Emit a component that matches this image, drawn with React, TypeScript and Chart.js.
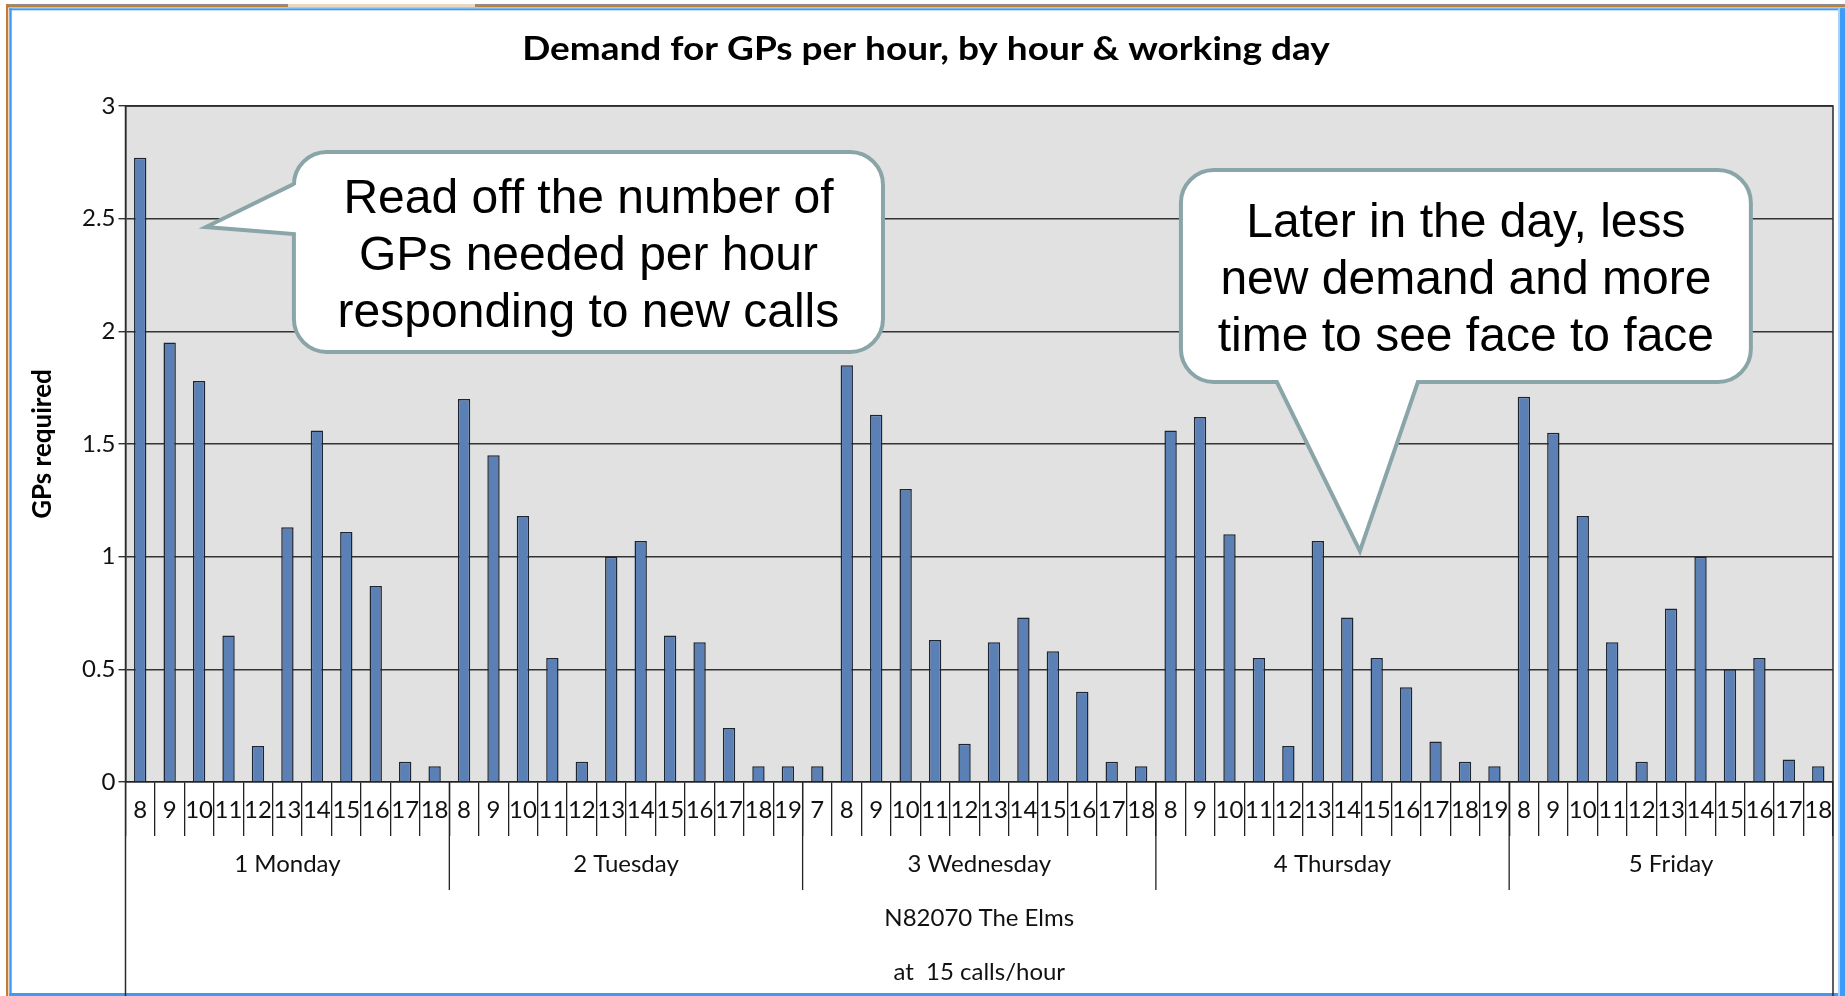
import React, { useEffect, useRef } from 'react';
import { Chart, registerables } from 'chart.js';

Chart.register(...registerables);

// ---------------- data ----------------
const CHART_TITLE = 'Demand for GPs per hour, by hour & working day';
const Y_AXIS_TITLE = 'GPs required';
const Y_TICK_VALUES = [0, 0.5, 1, 1.5, 2, 2.5, 3];
const Y_TICK_LABELS = ['0', '0.5', '1', '1.5', '2', '2.5', '3'];
const DAY_LABELS = ['1 Monday', '2 Tuesday', '3 Wednesday', '4 Thursday', '5 Friday'];

const mondayHours = ['8', '9', '10', '11', '12', '13', '14', '15', '16', '17', '18'];
const mondayGPs = [2.77, 1.95, 1.78, 0.65, 0.16, 1.13, 1.56, 1.11, 0.87, 0.09, 0.07];

const tuesdayHours = ['8', '9', '10', '11', '12', '13', '14', '15', '16', '17', '18', '19'];
const tuesdayGPs = [1.7, 1.45, 1.18, 0.55, 0.09, 1.0, 1.07, 0.65, 0.62, 0.24, 0.07, 0.07];

const wednesdayHours = ['7', '8', '9', '10', '11', '12', '13', '14', '15', '16', '17', '18'];
const wednesdayGPs = [0.07, 1.85, 1.63, 1.3, 0.63, 0.17, 0.62, 0.73, 0.58, 0.4, 0.09, 0.07];

const thursdayHours = ['8', '9', '10', '11', '12', '13', '14', '15', '16', '17', '18', '19'];
const thursdayGPs = [1.56, 1.62, 1.1, 0.55, 0.16, 1.07, 0.73, 0.55, 0.42, 0.18, 0.09, 0.07];

const fridayHours = ['8', '9', '10', '11', '12', '13', '14', '15', '16', '17', '18'];
const fridayGPs = [1.71, 1.55, 1.18, 0.62, 0.09, 0.77, 1.0, 0.5, 0.55, 0.1, 0.07];

const PRACTICE_LABEL = 'N82070 The Elms';
const RATE_LABEL = 'at  15 calls/hour';

const CALLOUT_LEFT_TEXT = ['Read off the number of', 'GPs needed per hour', 'responding to new calls'];
const CALLOUT_RIGHT_TEXT = ['Later in the day, less', 'new demand and more', 'time to see face to face'];

// ---------------- derived ----------------
const DAY_HOURS = [mondayHours, tuesdayHours, wednesdayHours, thursdayHours, fridayHours];
const DAY_VALUES = [mondayGPs, tuesdayGPs, wednesdayGPs, thursdayGPs, fridayGPs];
const HOUR_LABELS = DAY_HOURS.flat();
const GP_VALUES = DAY_VALUES.flat();

// ---------------- layout / style ----------------
const W = 1845;
const H = 996;
const FONT = 'Lato, "Open Sans", sans-serif';
const CALLOUT_FONT = '"Liberation Sans", Arial, sans-serif';

// callout anchors in scale units (x: category index, y: GPs)
const CALLOUTS = [
  {
    lines: CALLOUT_LEFT_TEXT,
    box: { x0: 5.22, x1: 25.23, y0: 2.796, y1: 1.908 },
    pointer: { side: 'left', a: 2.654, b: 2.432, tipX: 2.234, tipY: 2.463 },
  },
  {
    lines: CALLOUT_RIGHT_TEXT,
    box: { x0: 35.35, x1: 54.71, y0: 2.716, y1: 1.775 },
    pointer: { side: 'bottom', a: 38.61, b: 43.4, tipX: 41.43, tipY: 1.025 },
  },
];

function calloutPath(ctx: CanvasRenderingContext2D, L: number, T: number, R: number, B: number, r: number, p: any) {
  ctx.beginPath();
  ctx.moveTo(L + r, T);
  ctx.lineTo(R - r, T);
  ctx.arcTo(R, T, R, T + r, r);
  ctx.lineTo(R, B - r);
  ctx.arcTo(R, B, R - r, B, r);
  if (p.side === 'bottom') {
    ctx.lineTo(p.b, B);
    ctx.lineTo(p.tx, p.ty);
    ctx.lineTo(p.a, B);
  }
  ctx.lineTo(L + r, B);
  ctx.arcTo(L, B, L, B - r, r);
  if (p.side === 'left') {
    ctx.lineTo(L, p.b);
    ctx.lineTo(p.tx, p.ty);
    ctx.lineTo(L, p.a);
  }
  ctx.lineTo(L, T + r);
  ctx.arcTo(L, T, L + r, T, r);
  ctx.closePath();
}

const decorPlugin = {
  id: 'decor',
  beforeDraw(chart: any) {
    const { ctx, width, height, chartArea: a } = chart;
    ctx.save();
    ctx.fillStyle = '#ffffff';
    ctx.fillRect(0, 0, width, height);
    // outer window frame
    ctx.fillStyle = '#8c8c8c';
    ctx.fillRect(6, 4, width - 6, 2);
    ctx.fillStyle = '#c27b36';
    ctx.fillRect(6, 6, width - 6, 1.5);
    ctx.fillRect(6, 4, 2.3, height - 4);
    ctx.fillStyle = '#ead8c2';
    ctx.fillRect(288, 4, 187, 3);
    ctx.fillStyle = '#3d9bf6';
    ctx.fillRect(9.3, 8.3, width - 9.3, 2);
    ctx.fillRect(9.3, 8.3, 2.4, height - 8.3);
    ctx.fillRect(9.3, height - 3, width - 9.3, 3);
    ctx.fillStyle = '#a9d1f9';
    ctx.fillRect(width - 7, 8.3, 2, height - 8.3);
    ctx.fillStyle = '#3d9bf6';
    ctx.fillRect(width - 5, 8.3, 5, height - 8.3);
    // plot background
    ctx.fillStyle = '#e1e1e1';
    ctx.fillRect(a.left, a.top, a.right - a.left, a.bottom - a.top);
    ctx.restore();
  },
  afterDraw(chart: any) {
    const { ctx, height, chartArea: a } = chart;
    const xs = chart.scales.x;
    const ys = chart.scales.y;
    ctx.save();

    // plot frame and long vertical edges
    ctx.strokeStyle = '#2a2a2a';
    ctx.lineWidth = 1.5;
    ctx.beginPath();
    ctx.moveTo(a.left, height);
    ctx.lineTo(a.left, a.top);
    ctx.lineTo(a.right, a.top);
    ctx.lineTo(a.right, height);
    ctx.stroke();

    // day group separators and labels
    ctx.lineWidth = 1.3;
    ctx.strokeStyle = '#222';
    ctx.fillStyle = '#111';
    ctx.font = `24px ${FONT}`;
    ctx.textAlign = 'center';
    ctx.textBaseline = 'alphabetic';
    let start = 0;
    DAY_HOURS.forEach((hrs, i) => {
      const end = start + hrs.length - 1;
      const cx = (xs.getPixelForValue(start) + xs.getPixelForValue(end)) / 2;
      ctx.fillText(DAY_LABELS[i], cx, a.bottom + 90);
      if (i > 0) {
        const sx = (xs.getPixelForValue(start - 1) + xs.getPixelForValue(start)) / 2;
        ctx.beginPath();
        ctx.moveTo(sx, a.bottom);
        ctx.lineTo(sx, a.bottom + 108);
        ctx.stroke();
      }
      start = end + 1;
    });
    const midX = (a.left + a.right) / 2;
    ctx.fillText(PRACTICE_LABEL, midX, a.bottom + 144);
    ctx.fillText(RATE_LABEL, midX, a.bottom + 198);

    // title (slightly widened to match the original face)
    ctx.save();
    ctx.font = `bold 33px ${FONT}`;
    ctx.fillStyle = '#000';
    ctx.translate(926, 60);
    ctx.scale(1.12, 1);
    ctx.fillText(CHART_TITLE, 0, 0);
    ctx.restore();

    // callouts
    CALLOUTS.forEach((c) => {
      const L = xs.getPixelForValue(c.box.x0);
      const R = xs.getPixelForValue(c.box.x1);
      const T = ys.getPixelForValue(c.box.y0);
      const B = ys.getPixelForValue(c.box.y1);
      const p: any = { side: c.pointer.side, tx: xs.getPixelForValue(c.pointer.tipX), ty: ys.getPixelForValue(c.pointer.tipY) };
      if (c.pointer.side === 'left') {
        p.a = ys.getPixelForValue(c.pointer.a);
        p.b = ys.getPixelForValue(c.pointer.b);
      } else {
        p.a = xs.getPixelForValue(c.pointer.a);
        p.b = xs.getPixelForValue(c.pointer.b);
      }
      calloutPath(ctx, L, T, R, B, 33, p);
      ctx.fillStyle = '#ffffff';
      ctx.fill();
      ctx.lineWidth = 4;
      ctx.lineJoin = 'miter';
      ctx.strokeStyle = '#8aa5a8';
      ctx.stroke();
      ctx.fillStyle = '#000';
      ctx.font = `48px ${CALLOUT_FONT}`;
      ctx.textAlign = 'center';
      ctx.textBaseline = 'alphabetic';
      const cx = (L + R) / 2;
      const cy = (T + B) / 2;
      c.lines.forEach((ln, i) => {
        ctx.fillText(ln, cx, cy + 18 + (i - 1) * 57);
      });
    });
    ctx.restore();
  },
};

export default function App() {
  const ref = useRef<HTMLCanvasElement>(null);
  useEffect(() => {
    const canvas = ref.current;
    if (!canvas) return;
    const chart = new Chart(canvas, {
      type: 'bar',
      data: {
        labels: HOUR_LABELS,
        datasets: [
          {
            label: 'GPs required',
            data: GP_VALUES,
            backgroundColor: '#5b80b6',
            borderColor: '#1e2430',
            borderWidth: 1.5,
            barPercentage: 0.42,
            categoryPercentage: 1,
          },
        ],
      },
      options: {
        animation: false,
        responsive: false,
        devicePixelRatio: 1,
        layout: { padding: { top: 106, left: 9, right: 12, bottom: 0 } },
        plugins: {
          legend: { display: false },
          tooltip: { enabled: false },
          title: { display: false },
        },
        scales: {
          x: {
            type: 'category',
            offset: true,
            grid: {
              offset: true,
              drawOnChartArea: false,
              drawTicks: true,
              tickLength: 54,
              color: '#222',
              lineWidth: 1.3,
            },
            border: { display: true, color: '#222', width: 1.5 },
            ticks: {
              autoSkip: false,
              maxRotation: 0,
              minRotation: 0,
              padding: -40,
              color: '#111',
              font: { family: FONT, size: 24 },
            },
            afterFit: (s: any) => {
              s.height = 214;
            },
          },
          y: {
            min: 0,
            max: 3,
            afterBuildTicks: (s: any) => {
              s.ticks = Y_TICK_VALUES.map((v) => ({ value: v }));
            },
            ticks: {
              padding: 3,
              color: '#111',
              font: { family: FONT, size: 24 },
              callback: (v: any) => {
                const i = Y_TICK_VALUES.indexOf(Number(v));
                return i >= 0 ? Y_TICK_LABELS[i] : '';
              },
            },
            grid: { color: '#333', lineWidth: 1.4, tickLength: 7, drawTicks: true },
            border: { display: true, color: '#222', width: 1.5 },
            title: {
              display: true,
              text: Y_AXIS_TITLE,
              color: '#000',
              font: { family: FONT, size: 26, weight: 'bold' },
              padding: { top: 18, bottom: 0 },
            },
            afterFit: (s: any) => {
              s.width = 116.5;
            },
          },
        },
      },
      plugins: [decorPlugin],
    });
    return () => chart.destroy();
  }, []);
  return (
    <div style={{ position: 'fixed', left: 0, top: 0, width: W, height: H, background: '#fff' }}>
      <canvas ref={ref} width={W} height={H} style={{ display: 'block', width: W, height: H }} />
    </div>
  );
}
